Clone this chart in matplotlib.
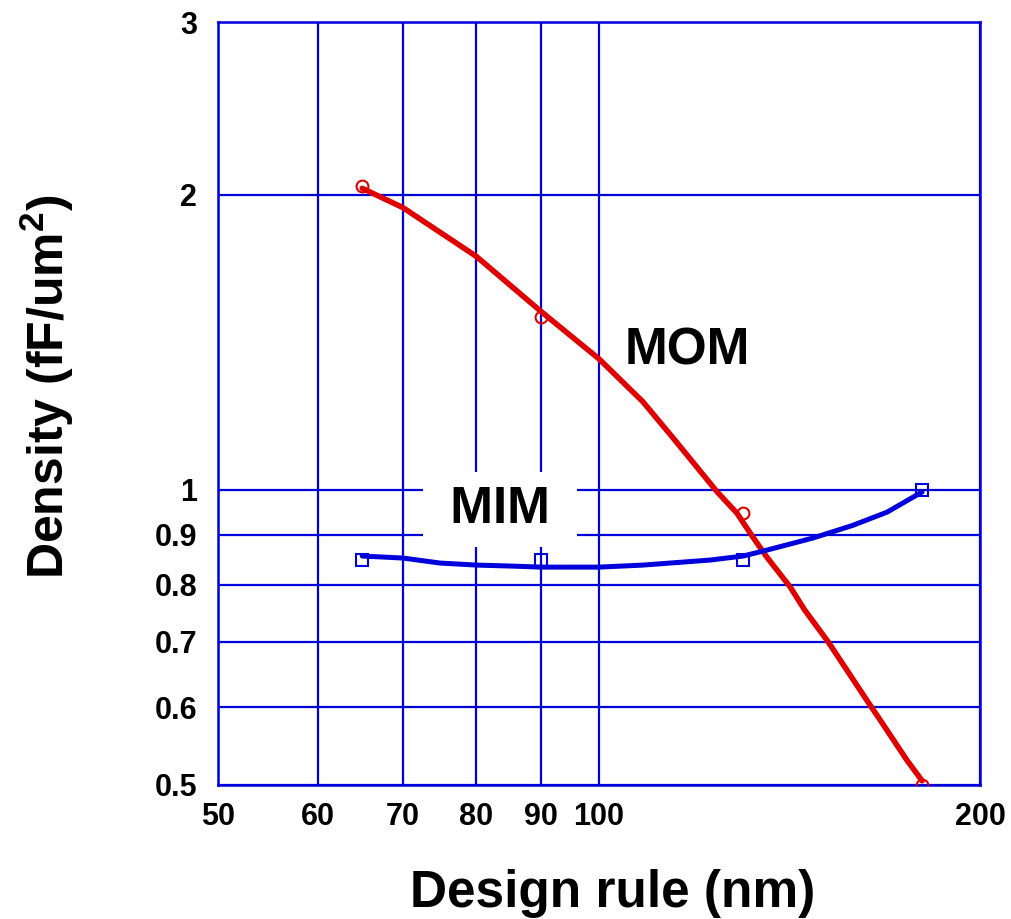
import numpy as np
import matplotlib
matplotlib.use('Agg')
import matplotlib.pyplot as plt
from matplotlib.ticker import FixedLocator, FixedFormatter, NullLocator

plt.rcParams['font.family'] = ['Liberation Sans', 'DejaVu Sans']
plt.rcParams['mathtext.fontset'] = 'custom'
plt.rcParams['mathtext.rm'] = 'Liberation Sans:bold'
plt.rcParams['mathtext.bf'] = 'Liberation Sans:bold'

# measured points
design_rule = [65, 90, 130, 180]
mom_points = [2.04, 1.50, 0.947, 0.50]
mim_points = [0.848, 0.848, 0.848, 1.0]

# fitted curves
mom_fit_x = [65, 70, 80, 90, 100, 108.3, 114.4, 124, 128.5, 132.3, 135.7, 141.6,
             145.4, 151.7, 162.8, 166.7, 175.1, 180]
mom_fit_y = [2.03, 1.94, 1.73, 1.52, 1.36, 1.23, 1.13, 0.995, 0.947, 0.895, 0.854,
             0.796, 0.754, 0.70, 0.61, 0.583, 0.53, 0.505]
mim_fit_x = [65, 70, 74.9, 80, 85.5, 90, 100, 108.3, 113.8, 122.4, 130, 135.7,
             147.6, 158.7, 168.9, 180]
mim_fit_y = [0.856, 0.852, 0.842, 0.838, 0.836, 0.834, 0.834, 0.838, 0.842, 0.848,
             0.856, 0.868, 0.893, 0.920, 0.949, 0.995]

x_ticks = [50, 60, 70, 80, 90, 100, 200]
y_ticks = [0.5, 0.6, 0.7, 0.8, 0.9, 1, 2, 3]
y_tick_labels = ['0.5', '0.6', '0.7', '0.8', '0.9', '1', '2', '3']

blue = '#0000dd'
red = '#e00000'

fig = plt.figure(figsize=(10.12, 9.19), dpi=100)
ax = fig.add_axes([218 / 1012, 1 - 785 / 919, 762 / 1012, 763 / 919])
ax.set_xscale('log')
ax.set_yscale('log')
ax.set_xlim(50, 200)
ax.set_ylim(0.5, 3)

ax.xaxis.set_major_locator(FixedLocator(x_ticks))
ax.xaxis.set_major_formatter(FixedFormatter([str(v) for v in x_ticks]))
ax.xaxis.set_minor_locator(NullLocator())
ax.yaxis.set_major_locator(FixedLocator(y_ticks))
ax.yaxis.set_major_formatter(FixedFormatter(y_tick_labels))
ax.yaxis.set_minor_locator(NullLocator())

ax.grid(True, color=blue, linewidth=1.6, zorder=1)
ax.set_axisbelow(True)
for s in ax.spines.values():
    s.set_color(blue)
    s.set_linewidth(1.8)
ax.tick_params(length=0, labelsize=22)
ax.tick_params(axis='x', pad=12)
ax.tick_params(axis='y', pad=15)
for lab in ax.get_xticklabels() + ax.get_yticklabels():
    lab.set_fontweight('bold')

ax.plot(design_rule, mom_points, linestyle='none', marker='o', markersize=8.5,
        markerfacecolor='none', markeredgecolor=red, markeredgewidth=1.5, zorder=3)
ax.plot(design_rule, mim_points, linestyle='none', marker='s', markersize=9,
        markerfacecolor='none', markeredgecolor=blue, markeredgewidth=1.5, zorder=3)
ax.plot(mom_fit_x, mom_fit_y, color=red, linewidth=4, solid_capstyle='round', zorder=4)
ax.plot(mim_fit_x, mim_fit_y, color=blue, linewidth=3.6, solid_capstyle='round', zorder=4)

ax.text(0.616, 0.569, 'MOM', transform=ax.transAxes, fontsize=37, fontweight='bold',
        ha='center', va='center', zorder=5)
ax.text(0.370, 0.361, ' MIM ', transform=ax.transAxes, fontsize=37, fontweight='bold',
        ha='center', va='center', zorder=5,
        bbox=dict(facecolor='white', edgecolor='none', boxstyle='square,pad=0.25'))

fig.text(613 / 1012, 1 - 893 / 919, 'Design rule (nm)', fontsize=37, fontweight='bold',
         ha='center', va='center')
fig.text(47 / 1012, 1 - 387 / 919, r'Density (fF/um$^{2}$)', fontsize=36,
         fontweight='bold', rotation=90, ha='center', va='center')

fig.savefig('out.png', dpi=100)
